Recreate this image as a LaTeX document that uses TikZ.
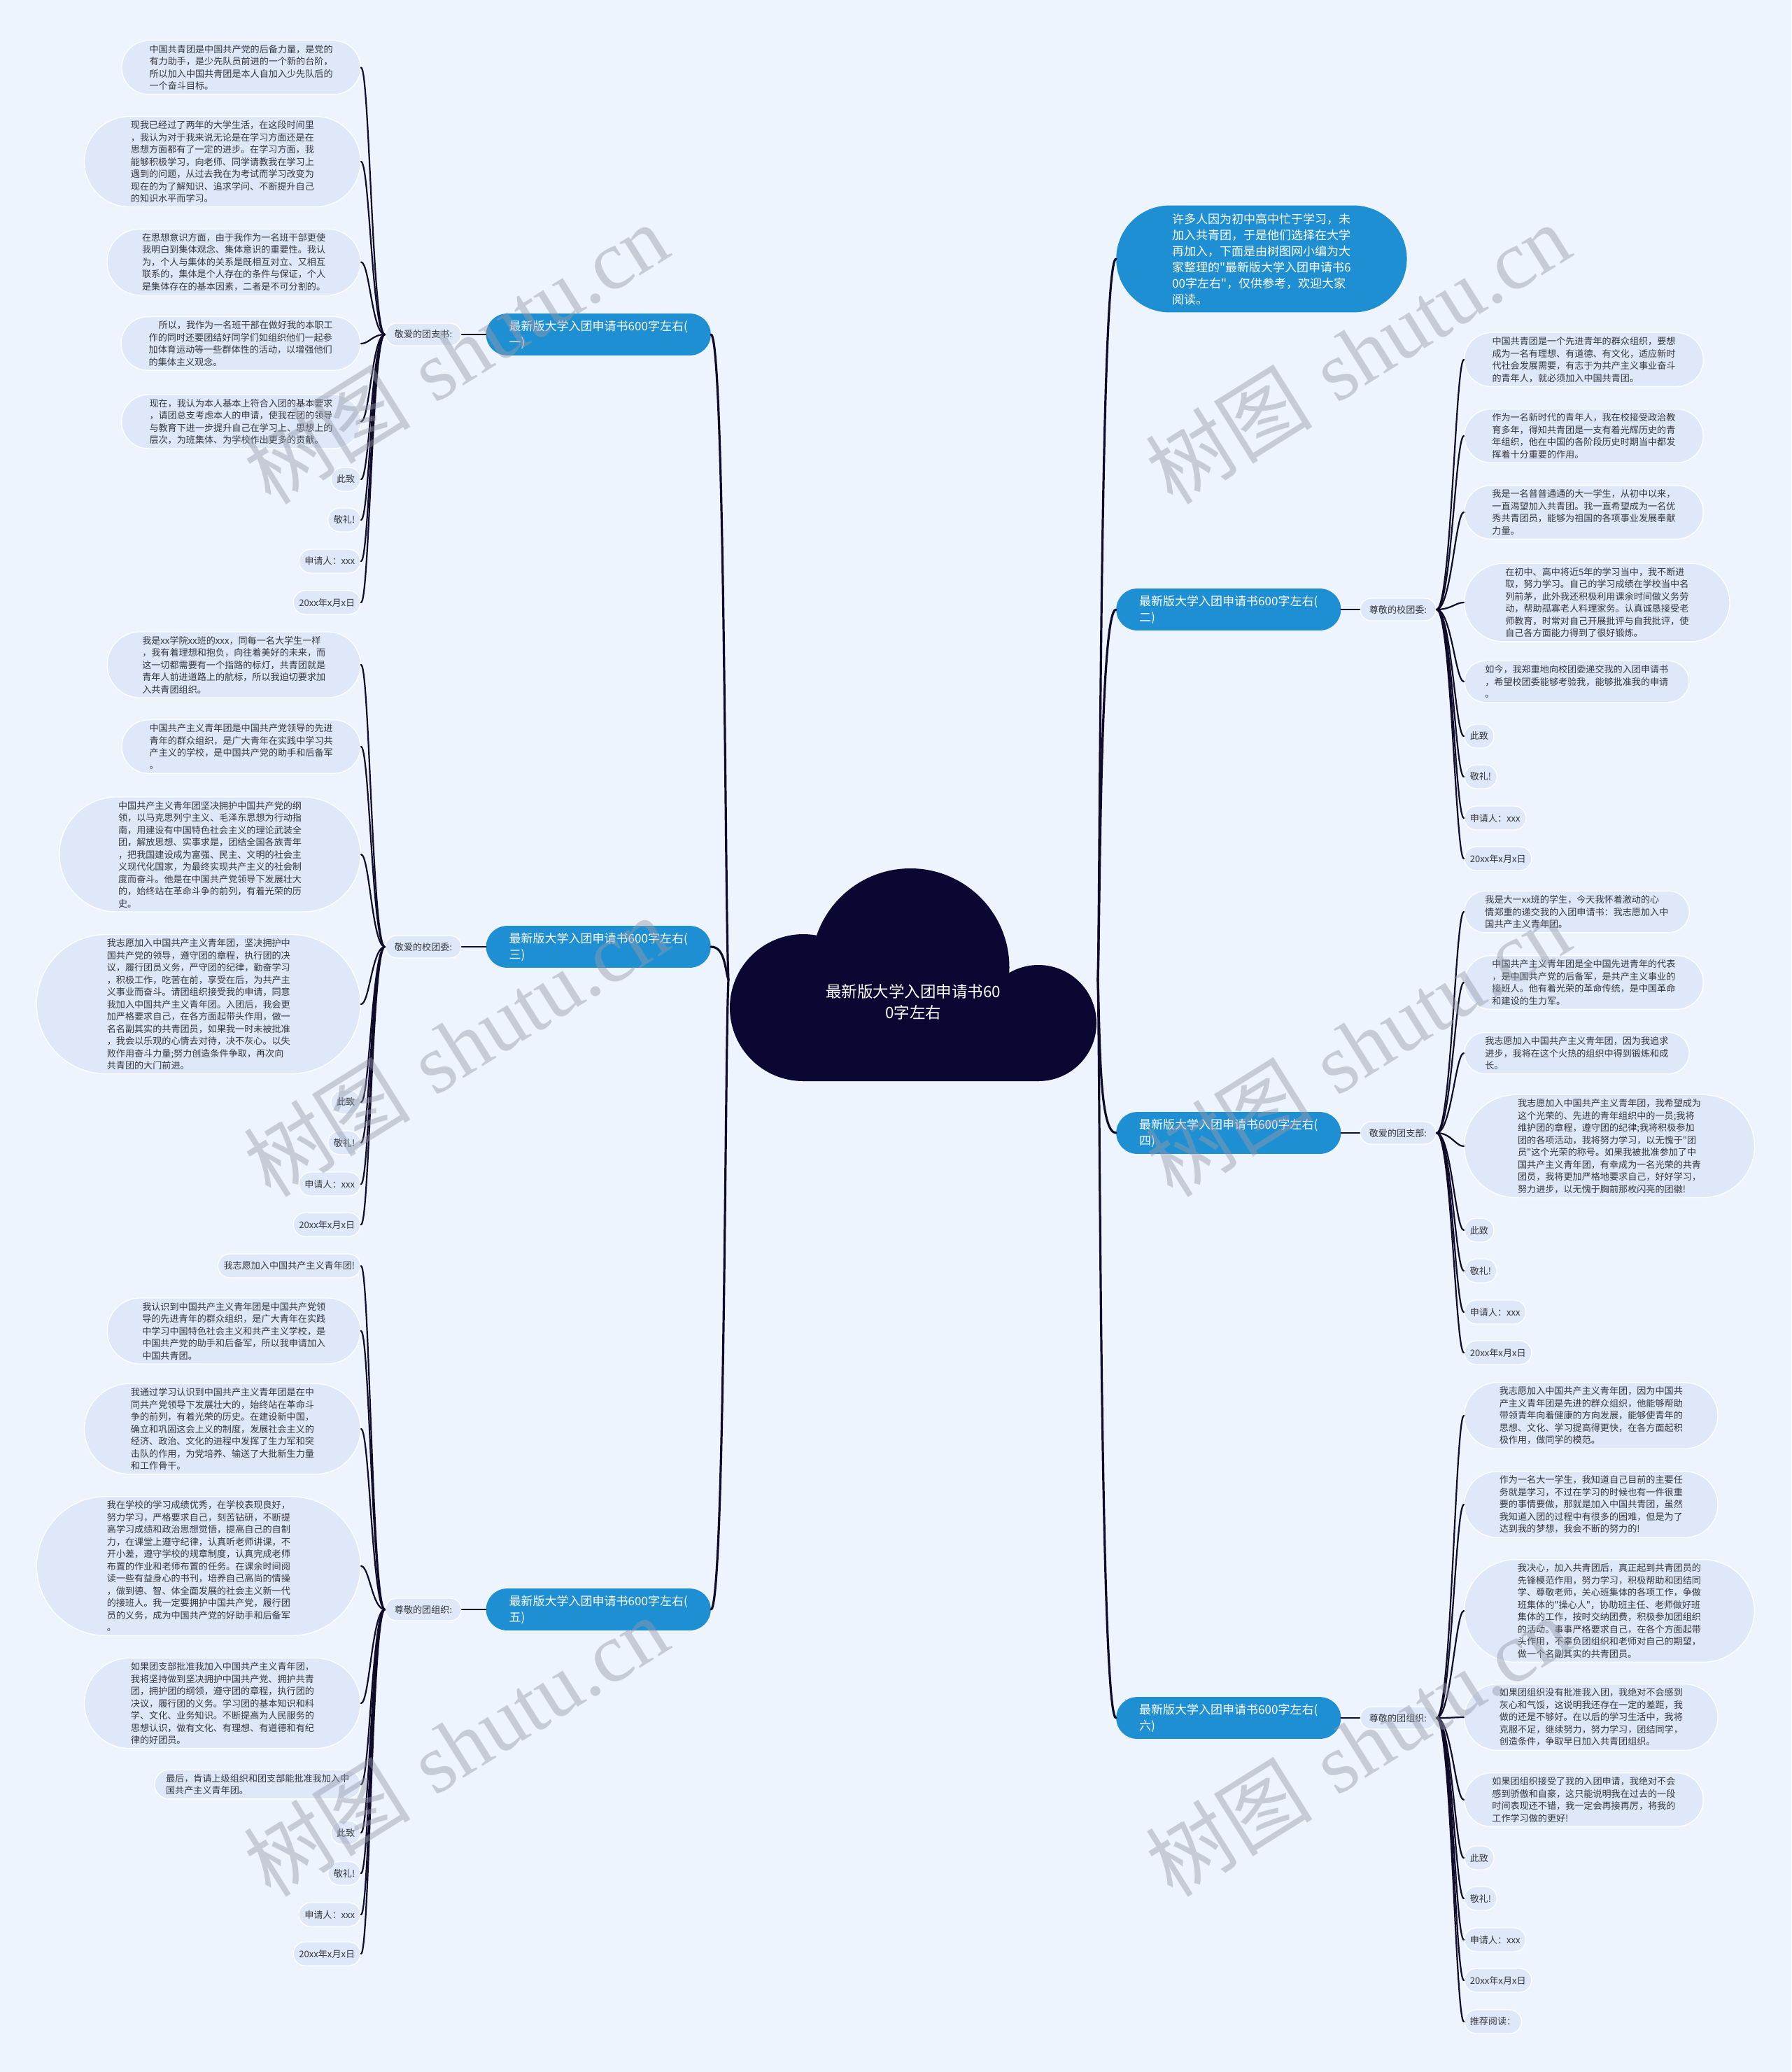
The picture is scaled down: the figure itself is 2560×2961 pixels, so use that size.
\documentclass[tikz,border=0pt]{standalone}
\usepackage{fontspec}
\usetikzlibrary{shapes.misc}
\newfontfamily\cjk{Noto Sans CJK SC}
\newfontfamily\wmserif{Liberation Serif}
\definecolor{bgc}{RGB}{238,244,254}
\definecolor{leaffill}{RGB}{222,232,249}
\definecolor{txtc}{RGB}{55,55,62}
\definecolor{bblue}{RGB}{30,143,210}
\definecolor{cloudc}{RGB}{10,7,50}
\definecolor{linkc}{RGB}{14,12,40}
\definecolor{wmc}{RGB}{150,155,168}
\newcommand{\leaffont}{\cjk\fontsize{13.1}{17.5}\selectfont}
\newcommand{\branchfont}{\cjk\fontsize{17}{23}\selectfont}
\newcommand{\cloudfont}{\cjk\fontsize{22.5}{30}\selectfont}
\newcommand{\wmfont}{\fontsize{120}{130}\selectfont}
\tikzset{
  leaf/.style={rounded rectangle, fill=leaffill, draw=white, line width=1.3pt, text=txtc,
    font=\leaffont, align=left, inner xsep=7pt, inner ysep=6pt, minimum height=34pt},
  leafE/.style={leaf, anchor=east},
  leafW/.style={leaf, anchor=west},
  lbl/.style={leaf, inner xsep=12pt, minimum height=32pt},
  ls2/.style={inner xsep=10pt},
  ls3/.style={inner xsep=18pt},
  ls4/.style={inner xsep=22pt},
  ls5/.style={inner xsep=26pt},
  ls6/.style={inner xsep=28pt},
  ls7/.style={inner xsep=29pt},
  ls8/.style={inner xsep=32pt},
  ls9/.style={inner xsep=33pt},
  ls11/.style={inner xsep=35pt},
  branch/.style={rounded rectangle, fill=bblue, text=white, font=\branchfont, align=left,
    inner xsep=25pt, inner ysep=9.5pt},
  link/.style={draw=linkc, line width=2.2pt, line cap=round},
  trunk/.style={draw=linkc, line width=3.2pt, line cap=round},
  wm/.style={rotate=32, text=wmc, opacity=0.45, font=\wmfont, inner sep=0pt}
}
\begin{document}
\begin{tikzpicture}[x=1pt,y=-1pt]
\useasboundingbox (0,0) rectangle (2560,2961);
\fill[bgc] (0,0) rectangle (2560,2961);

% ---------- cloud ----------
\fill[cloudc] (1148,1440) circle[radius=105pt];
\fill[cloudc] (1484,1462) circle[radius=83pt];
\fill[cloudc] (1301,1382.5) circle[radius=141.5pt];
\fill[cloudc] (1148,1440) -- (1167,1337) -- (1301,1382) -- (1442,1394) -- (1484,1462) -- (1484,1545) -- (1148,1545) -- cycle;
\node[font=\cloudfont, text=white, align=center] (ctr) at (1305,1432) {最新版大学入团申请书60\\0字左右};
\coordinate (cL) at (1041,1400);
\coordinate (cR) at (1569,1400);

% ---------- branches ----------
\node[branch, anchor=east] (B1) at (1016,478) {最新版大学入团申请书600字左右(\\一)};
\node[branch, anchor=east] (B3) at (1016,1353) {最新版大学入团申请书600字左右(\\三)};
\node[branch, anchor=east] (B5) at (1016,2300) {最新版大学入团申请书600字左右(\\五)};
\node[branch, anchor=west] (B2) at (1595,871) {最新版大学入团申请书600字左右(\\二)};
\node[branch, anchor=west] (B4) at (1595,1619) {最新版大学入团申请书600字左右(\\四)};
\node[branch, anchor=west] (B6) at (1595,2455) {最新版大学入团申请书600字左右(\\六)};
\node[branch, anchor=west, inner ysep=11pt, inner xsep=43pt] (I) at (1595,370) {许多人因为初中高中忙于学习，未\\加入共青团，于是他们选择在大学\\再加入，下面是由树图网小编为大\\家整理的"最新版大学入团申请书6\\00字左右"，仅供参考，欢迎大家\\阅读。};

% ---------- labels ----------
\node[lbl, anchor=east] (l1) at (660,478) {敬爱的团支书:};
\node[lbl, anchor=east] (l3) at (660,1353) {敬爱的校团委:};
\node[lbl, anchor=east] (l5) at (660,2300) {尊敬的团组织:};
\node[lbl, anchor=west] (r2) at (1943,871) {尊敬的校团委:};
\node[lbl, anchor=west] (r4) at (1943,1619) {敬爱的团支部:};
\node[lbl, anchor=west] (r6) at (1943,2455) {尊敬的团组织:};

% ---------- block 1 ----------
\node[leafE, ls4] (a1) at (516,96.5) {中国共青团是中国共产党的后备力量，是党的\\有力助手，是少先队员前进的一个新的台阶，\\所以加入中国共青团是本人自加入少先队后的\\一个奋斗目标。};
\node[leafE, ls7] (a2) at (516,231) {现我已经过了两年的大学生活，在这段时间里\\，我认为对于我来说无论是在学习方面还是在\\思想方面都有了一定的进步。在学习方面，我\\能够积极学习，向老师、同学请教我在学习上\\遇到的问题，从过去我在为考试而学习改变为\\现在的为了解知识、追求学问、不断提升自己\\的知识水平而学习。};
\node[leafE, ls5] (a3) at (516,374.5) {在思想意识方面，由于我作为一名班干部更使\\我明白到集体观念、集体意识的重要性。我认\\为，个人与集体的关系是既相互对立、又相互\\联系的，集体是个人存在的条件与保证，个人\\是集体存在的基本因素，二者是不可分割的。};
\node[leafE, ls4] (a4) at (516,491) {\hspace*{14pt}所以，我作为一名班干部在做好我的本职工\\作的同时还要团结好同学们如组织他们一起参\\加体育运动等一些群体性的活动，以增强他们\\的集体主义观念。};
\node[leafE, ls4] (a5) at (516,602.5) {现在，我认为本人基本上符合入团的基本要求\\，请团总支考虑本人的申请，使我在团的领导\\与教育下进一步提升自己在学习上、思想上的\\层次，为班集体、为学校作出更多的贡献。};
\node[leafE] (a6) at (516,685) {此致};
\node[leafE] (a7) at (516,743) {敬礼!};
\node[leafE] (a8) at (516,802) {申请人：xxx};
\node[leafE] (a9) at (516,861) {20xx年x月x日};

% ---------- block 3 ----------
\node[leafE, ls5] (b1) at (516,950) {我是xx学院xx班的xxx，同每一名大学生一样\\，我有着理想和抱负，向往着美好的未来，而\\这一切都需要有一个指路的标灯，共青团就是\\青年人前进道路上的航标，所以我迫切要求加\\入共青团组织。};
\node[leafE, ls4] (b2) at (516,1067) {中国共产主义青年团是中国共产党领导的先进\\青年的群众组织，是广大青年在实践中学习共\\产主义的学校，是中国共产党的助手和后备军\\。};
\node[leafE, ls9] (b3) at (516,1221) {中国共产主义青年团坚决拥护中国共产党的纲\\领，以马克思列宁主义、毛泽东思想为行动指\\南，用建设有中国特色社会主义的理论武装全\\团，解放思想、实事求是，团结全国各族青年\\，把我国建设成为富强、民主、文明的社会主\\义现代化国家，为最终实现共产主义的社会制\\度而奋斗。他是在中国共产党领导下发展壮大\\的，始终站在革命斗争的前列，有着光荣的历\\史。};
\node[leafE, ls11] (b4) at (516,1435) {我志愿加入中国共产主义青年团，坚决拥护中\\国共产党的领导，遵守团的章程，执行团的决\\议，履行团员义务，严守团的纪律，勤奋学习\\，积极工作，吃苦在前，享受在后，为共产主\\义事业而奋斗。请团组织接受我的申请，同意\\我加入中国共产主义青年团。入团后，我会更\\加严格要求自己，在各方面起带头作用，做一\\名名副其实的共青团员，如果我一时未被批准\\，我会以乐观的心情去对待，决不灰心。以失\\败作用奋斗力量;努力创造条件争取，再次向\\共青团的大门前进。};
\node[leafE] (b5) at (516,1575) {此致};
\node[leafE] (b6) at (516,1633) {敬礼!};
\node[leafE] (b7) at (516,1692) {申请人：xxx};
\node[leafE] (b8) at (516,1750) {20xx年x月x日};

% ---------- block 5 ----------
\node[leafE] (c1) at (516,1809) {我志愿加入中国共产主义青年团!};
\node[leafE, ls5] (c2) at (516,1902) {我认识到中国共产主义青年团是中国共产党领\\导的先进青年的群众组织，是广大青年在实践\\中学习中国特色社会主义和共产主义学校，是\\中国共产党的助手和后备军，所以我申请加入\\中国共青团。};
\node[leafE, ls7] (c3) at (516,2042) {我通过学习认识到中国共产主义青年团是在中\\同共产党领导下发展壮大的，始终站在革命斗\\争的前列，有着光荣的历史。在建设新中国，\\确立和巩固这会上义的制度，发展社会主义的\\经济、政治、文化的进程中发挥了生力军和突\\击队的作用，为党培养、输送了大批新生力量\\和工作骨干。};
\node[leafE, ls11] (c4) at (516,2238) {我在学校的学习成绩优秀，在学校表现良好，\\努力学习，严格要求自己，刻苦钻研，不断提\\高学习成绩和政治思想觉悟，提高自己的自制\\力，在课堂上遵守纪律，认真听老师讲课，不\\开小差，遵守学校的规章制度，认真完成老师\\布置的作业和老师布置的任务。在课余时间阅\\读一些有益身心的书刊，培养自己高尚的情操\\，做到德、智、体全面发展的社会主义新一代\\的接班人。我一定要拥护中国共产党，履行团\\员的义务，成为中国共产党的好助手和后备军\\。};
\node[leafE, ls7] (c5) at (516,2434) {如果团支部批准我加入中国共产主义青年团，\\我将坚持做到坚决拥护中国共产党、拥护共青\\团，拥护团的纲领，遵守团的章程，执行团的\\决议，履行团的义务。学习团的基本知识和科\\学、文化、业务知识。不断提高为人民服务的\\思想认识，做有文化、有理想、有道德和有纪\\律的好团员。};
\node[leafE, ls2] (c6) at (516,2550) {最后，肯请上级组织和团支部能批准我加入中\\国共产主义青年团。};
\node[leafE] (c7) at (516,2619) {此致};
\node[leafE] (c8) at (516,2677) {敬礼!};
\node[leafE] (c9) at (516,2736) {申请人：xxx};
\node[leafE] (c10) at (516,2792) {20xx年x月x日};

% ---------- block 2 ----------
\node[leafW, ls4] (d1) at (2092,514) {中国共青团是一个先进青年的群众组织，要想\\成为一名有理想、有道德、有文化，适应新时\\代社会发展需要，有志于为共产主义事业奋斗\\的青年人，就必须加入中国共青团。};
\node[leafW, ls4] (d2) at (2092,623) {作为一名新时代的青年人，我在校接受政治教\\育多年，得知共青团是一支有着光辉历史的青\\年组织，他在中国的各阶段历史时期当中都发\\挥着十分重要的作用。};
\node[leafW, ls4] (d3) at (2092,732) {我是一名普普通通的大一学生，从初中以来，\\一直渴望加入共青团。我一直希望成为一名优\\秀共青团员，能够为祖国的各项事业发展奉献\\力量。};
\node[leafW, ls6] (d4) at (2092,861) {在初中、高中将近5年的学习当中，我不断进\\取，努力学习。自己的学习成绩在学校当中名\\列前茅，此外我还积极利用课余时间做义务劳\\动，帮助孤寡老人料理家务。认真诚恳接受老\\师教育，时常对自己开展批评与自我批评，使\\自己各方面能力得到了很好锻炼。};
\node[leafW, ls3] (d5) at (2092,974) {如今，我郑重地向校团委递交我的入团申请书\\，希望校团委能够考验我，能够批准我的申请\\。};
\node[leafW] (d6) at (2092,1052) {此致};
\node[leafW] (d7) at (2092,1110) {敬礼!};
\node[leafW] (d8) at (2092,1169) {申请人：xxx};
\node[leafW] (d9) at (2092,1227) {20xx年x月x日};

% ---------- block 4 ----------
\node[leafW, ls3] (e1) at (2092,1303) {我是大一xx班的学生，今天我怀着激动的心\\情郑重的递交我的入团申请书：我志愿加入中\\国共产主义青年团。};
\node[leafW, ls4] (e2) at (2092,1404) {中国共产主义青年团是全中国先进青年的代表\\，是中国共产党的后备军，是共产主义事业的\\接班人。他有着光荣的革命传统，是中国革命\\和建设的生力军。};
\node[leafW, ls3] (e3) at (2092,1505) {我志愿加入中国共产主义青年团，因为我追求\\进步，我将在这个火热的组织中得到锻炼和成\\长。};
\node[leafW, ls8] (e4) at (2092,1638) {我志愿加入中国共产主义青年团，我希望成为\\这个光荣的、先进的青年组织中的一员;我将\\维护团的章程，遵守团的纪律;我将积极参加\\团的各项活动，我将努力学习，以无愧于"团\\员"这个光荣的称号。如果我被批准参加了中\\国共产主义青年团，有幸成为一名光荣的共青\\团员，我将更加严格地要求自己，好好学习，\\努力进步，以无愧于胸前那枚闪亮的团徽!};
\node[leafW] (e5) at (2092,1758) {此致};
\node[leafW] (e6) at (2092,1816) {敬礼!};
\node[leafW] (e7) at (2092,1875) {申请人：xxx};
\node[leafW] (e8) at (2092,1933) {20xx年x月x日};

% ---------- block 6 ----------
\node[leafW, ls5] (f1) at (2092,2023) {我志愿加入中国共产主义青年团，因为中国共\\产主义青年团是先进的群众组织，他能够帮助\\带领青年向着健康的方向发展，能够使青年的\\思想、文化、学习提高得更快，在各方面起积\\极作用，做同学的模范。};
\node[leafW, ls5] (f2) at (2092,2150) {作为一名大一学生，我知道自己目前的主要任\\务就是学习，不过在学习的时候也有一件很重\\要的事情要做，那就是加入中国共青团，虽然\\我知道入团的过程中有很多的困难，但是为了\\达到我的梦想，我会不断的努力的!};
\node[leafW, ls8] (f3) at (2092,2302) {我决心，加入共青团后，真正起到共青团员的\\先锋模范作用，努力学习，积极帮助和团结同\\学、尊敬老师，关心班集体的各项工作，争做\\班集体的"操心人"，协助班主任、老师做好班\\集体的工作，按时交纳团费，积极参加团组织\\的活动。事事严格要求自己，在各个方面起带\\头作用，不辜负团组织和老师对自己的期望，\\做一个名副其实的共青团员。};
\node[leafW, ls5] (f4) at (2092,2454) {如果团组织没有批准我入团，我绝对不会感到\\灰心和气馁，这说明我还存在一定的差距，我\\做的还是不够好。在以后的学习生活中，我将\\克服不足，继续努力，努力学习，团结同学，\\创造条件，争取早日加入共青团组织。};
\node[leafW, ls4] (f5) at (2092,2572) {如果团组织接受了我的入团申请，我绝对不会\\感到骄傲和自豪，这只能说明我在过去的一段\\时间表现还不错，我一定会再接再厉，将我的\\工作学习做的更好!};
\node[leafW] (f6) at (2092,2655) {此致};
\node[leafW] (f7) at (2092,2713) {敬礼!};
\node[leafW] (f8) at (2092,2772) {申请人：xxx};
\node[leafW] (f9) at (2092,2830) {20xx年x月x日};
\node[leafW] (f10) at (2092,2889) {推荐阅读：};

% ---------- trunk connectors ----------
\draw[trunk] (cL) .. controls (1036,1300) and (1036,478) .. (B1.east);
\draw[trunk] (cL) .. controls (1036,1385) and (1036,1353) .. (B3.east);
\draw[trunk] (cL) .. controls (1036,1500) and (1036,2300) .. (B5.east);
\draw[trunk] (cR) .. controls (1572,1300) and (1572,370) .. (I.west);
\draw[trunk] (cR) .. controls (1572,1300) and (1572,871) .. (B2.west);
\draw[trunk] (cR) .. controls (1572,1500) and (1572,1619) .. (B4.west);
\draw[trunk] (cR) .. controls (1572,1500) and (1572,2455) .. (B6.west);

% ---------- branch to label ----------
\draw[link] (B1.west) -- (l1.east);
\draw[link] (B3.west) -- (l3.east);
\draw[link] (B5.west) -- (l5.east);
\draw[link] (B2.east) -- (r2.west);
\draw[link] (B4.east) -- (r4.west);
\draw[link] (B6.east) -- (r6.west);

% ---------- label to leaves ----------
\coordinate (lxa) at (532,0);
\coordinate (lxb) at (528,0);
\coordinate (rxa) at (2074,0);
\coordinate (rxb) at (2080,0);
\foreach \i in {1,...,9}
  \draw[link] (l1.west) .. controls (lxa |- l1.west) and (lxb |- a\i.east) .. (a\i.east);
\foreach \i in {1,...,8}
  \draw[link] (l3.west) .. controls (lxa |- l3.west) and (lxb |- b\i.east) .. (b\i.east);
\foreach \i in {1,...,10}
  \draw[link] (l5.west) .. controls (lxa |- l5.west) and (lxb |- c\i.east) .. (c\i.east);
\foreach \i in {1,...,9}
  \draw[link] (r2.east) .. controls (rxa |- r2.east) and (rxb |- d\i.west) .. (d\i.west);
\foreach \i in {1,...,8}
  \draw[link] (r4.east) .. controls (rxa |- r4.east) and (rxb |- e\i.west) .. (e\i.west);
\foreach \i in {1,...,10}
  \draw[link] (r6.east) .. controls (rxa |- r6.east) and (rxb |- f\i.west) .. (f\i.west);

% ---------- watermarks ----------
\node[wm] (w1) at (651,505) {{\cjk 树图} {\wmserif shutu.cn}};
\node[wm] (w2) at (1940,505) {{\cjk 树图} {\wmserif shutu.cn}};
\node[wm] (w3) at (651,1495) {{\cjk 树图} {\wmserif shutu.cn}};
\node[wm] (w4) at (1940,1495) {{\cjk 树图} {\wmserif shutu.cn}};
\node[wm] (w5) at (651,2495) {{\cjk 树图} {\wmserif shutu.cn}};
\node[wm] (w6) at (1940,2495) {{\cjk 树图} {\wmserif shutu.cn}};
\end{tikzpicture}
\end{document}
